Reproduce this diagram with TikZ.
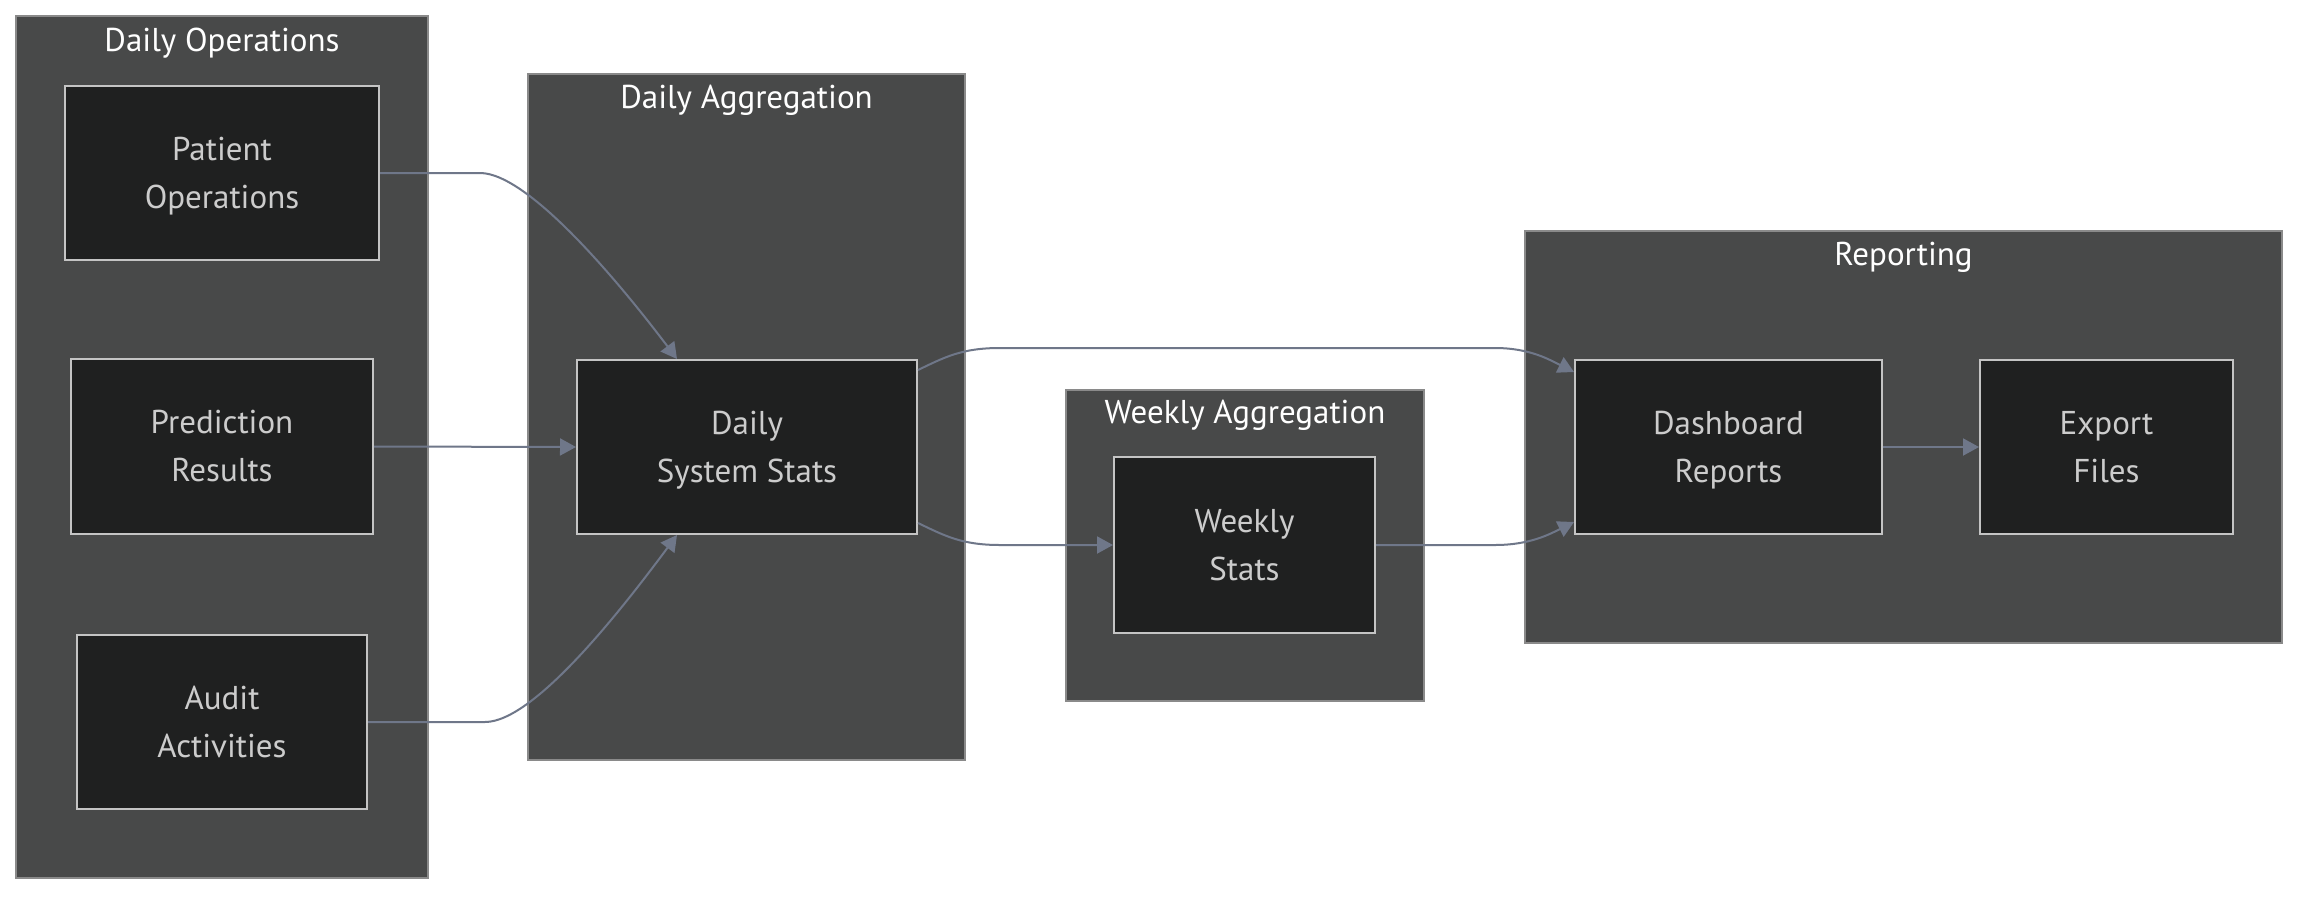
\documentclass[tikz,border=0pt]{standalone}
\usepackage{fontspec}
\setmainfont{PT Sans}
\usetikzlibrary{arrows.meta}
\definecolor{clfill}{HTML}{484949}
\definecolor{clline}{HTML}{8A8A8A}
\definecolor{ndfill}{HTML}{1F2020}
\definecolor{ndline}{HTML}{C4C4C4}
\definecolor{ndtext}{HTML}{CCCCCC}
\definecolor{edge}{HTML}{6F7789}
\newcommand{\lnstrut}{\rule[-13pt]{0pt}{48pt}}
\tikzset{
  cluster/.style={fill=clfill, draw=clline, line width=1.5pt},
  cltitle/.style={text=white, font=\fontsize{33}{48}\selectfont, inner sep=0pt, anchor=base},
  box/.style={draw=ndline, fill=ndfill, line width=2pt, text=ndtext, align=center,
    font=\fontsize{33}{48}\selectfont, inner sep=0pt, anchor=center},
  link/.style={draw=edge, line width=2pt, -{Triangle[length=16pt,width=17pt]}},
}
\begin{document}
\begin{tikzpicture}[x=1pt,y=-1pt]
\path[use as bounding box, fill=white] (0,0) rectangle (2314,900);
% clusters
\draw[cluster] (16,16) rectangle (428,878);
\node[cltitle] (tdo) at (222,51) {Daily Operations};
\draw[cluster] (528,74) rectangle (965,760);
\node[cltitle] (tda) at (746.5,108) {Daily Aggregation};
\draw[cluster] (1066,390) rectangle (1424,701);
\node[cltitle] (twa) at (1245,423) {Weekly Aggregation};
\draw[cluster] (1525,231) rectangle (2282,643);
\node[cltitle] (trp) at (1903.5,265) {Reporting};
% nodes
\node[box, minimum width=314pt, minimum height=174pt] (po) at (222,173) {\lnstrut Patient\\\lnstrut Operations};
\node[box, minimum width=302pt, minimum height=175pt] (pr) at (222,446.5) {\lnstrut Prediction\\\lnstrut Results};
\node[box, minimum width=290pt, minimum height=174pt] (aa) at (222,722) {\lnstrut Audit\\\lnstrut Activities};
\node[box, minimum width=340pt, minimum height=174pt] (ds) at (747,447) {\lnstrut Daily\\\lnstrut System Stats};
\node[box, minimum width=261pt, minimum height=176pt] (ws) at (1244.5,545) {\lnstrut Weekly\\\lnstrut Stats};
\node[box, minimum width=307pt, minimum height=174pt] (dr) at (1728.5,447) {\lnstrut Dashboard\\\lnstrut Reports};
\node[box, minimum width=253pt, minimum height=174pt] (ef) at (2106.5,447) {\lnstrut Export\\\lnstrut Files};
% edges
\draw[link] (po.east) -- (480,173) .. controls (530,173) and (625,290) .. ([xshift=-70pt]ds.north);
\draw[link] (pr.east) -- (ds.west);
\draw[link] (aa.east) -- (485,722) .. controls (535,722) and (625,605) .. ([xshift=-70pt]ds.south);
\draw[link] ([yshift=77pt]ds.east) .. controls (945,357) and (962,348) .. (1000,348) -- (1495,348) .. controls (1530,348) and (1550,360) .. ([yshift=75pt]dr.west);
\draw[link] ([yshift=-76pt]ds.east) .. controls (945,536) and (962,545) .. (1000,545) -- (ws.west);
\draw[link] (ws.east) -- (1495,545) .. controls (1530,545) and (1550,534) .. ([yshift=-75pt]dr.west);
\draw[link] (dr.east) -- (ef.west);
\end{tikzpicture}
\end{document}
